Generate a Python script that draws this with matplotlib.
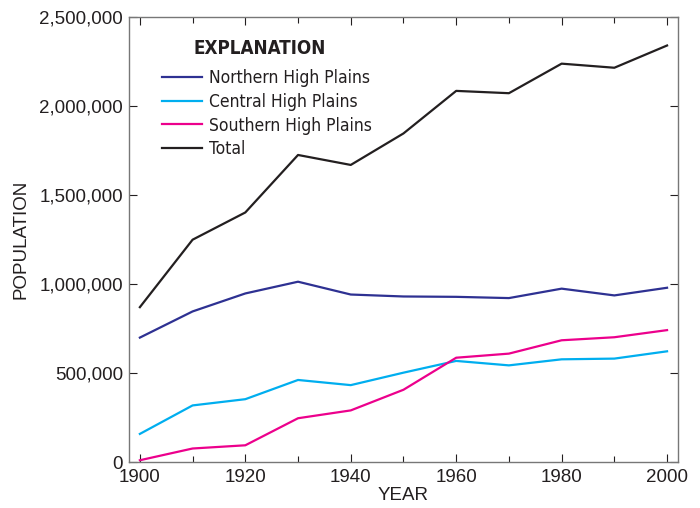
import matplotlib
matplotlib.use("Agg")
import matplotlib.pyplot as plt
from matplotlib.ticker import FuncFormatter, MultipleLocator
from matplotlib.font_manager import FontProperties

# population by decade
years = [1900, 1910, 1920, 1930, 1940, 1950, 1960, 1970, 1980, 1990, 2000]
northern = [699000, 846000, 947000, 1013000, 941000, 930000, 928000, 921000, 974000, 936000, 979000]
central = [158000, 318000, 353000, 461000, 432000, 502000, 568000, 543000, 577000, 581000, 622000]
southern = [10000, 76000, 94000, 246000, 290000, 406000, 586000, 609000, 684000, 701000, 741000]
total = [870000, 1249000, 1402000, 1725000, 1669000, 1846000, 2085000, 2072000, 2238000, 2215000, 2340000]

series_names = ["Northern High Plains", "Central High Plains", "Southern High Plains", "Total"]
series_colors = ["#2e3192", "#00aeef", "#ec008c", "#231f20"]

plt.rcParams['font.family'] = ['Liberation Sans', 'DejaVu Sans']
# condensed face for the explanation box
leg_font = FontProperties(family='DejaVu Sans', stretch='condensed', size=12.5)
title_font = FontProperties(family='DejaVu Sans', stretch='condensed', weight='bold', size=13.5)

fig = plt.figure(figsize=(7.0, 5.08), dpi=100)
ax = fig.add_axes([0.184, 0.0905, 0.784, 0.876])

for vals, name, col in zip([northern, central, southern, total], series_names, series_colors):
    ax.plot(years, vals, color=col, lw=1.6, label=name)

ax.set_xlim(1897.9, 2002.0)
ax.set_ylim(0, 2500000)
ax.xaxis.set_major_locator(MultipleLocator(20))
ax.xaxis.set_minor_locator(MultipleLocator(10))
ax.yaxis.set_major_locator(MultipleLocator(500000))
ax.yaxis.set_major_formatter(FuncFormatter(lambda v, p: f"{int(v):,}"))

ax.tick_params(which='major', direction='in', top=True, right=True, length=6,
               width=0.8, color='#231f20', labelsize=13.5, labelcolor='#231f20', pad=4)
ax.tick_params(which='minor', direction='in', top=True, right=True, length=4,
               width=0.8, color='#231f20')
ax.tick_params(axis='x', pad=5)
for sp in ax.spines.values():
    sp.set_color('#777777')
    sp.set_linewidth(1.0)

ax.set_xlabel("YEAR", fontsize=13.5, color='#231f20', labelpad=1)
ax.set_ylabel("POPULATION", fontsize=13.5, color='#231f20', labelpad=7)

leg = ax.legend(loc='upper left', bbox_to_anchor=(0.061, 0.883), frameon=False,
                prop=leg_font, handlelength=2.3, handletextpad=0.4,
                labelspacing=0.33, borderaxespad=0, borderpad=0)
for t in leg.get_texts():
    t.set_color('#231f20')
ax.text(0.118, 0.951, "EXPLANATION", transform=ax.transAxes, fontproperties=title_font,
        color='#231f20', va='top')

fig.savefig("out.png", dpi=100)
